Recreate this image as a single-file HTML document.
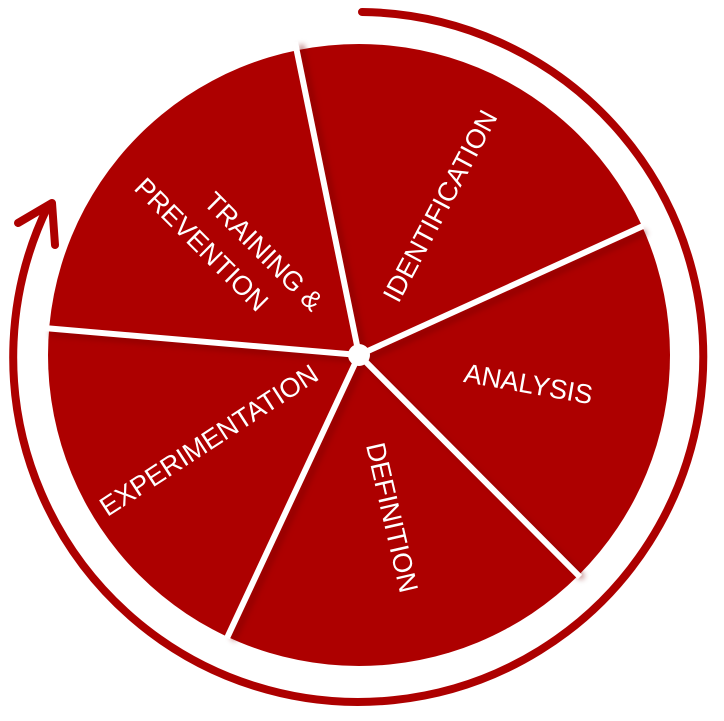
<!DOCTYPE html>
<html><head><style>html,body{margin:0;padding:0;background:#fff}svg{display:block}</style></head>
<body>
<svg width="724" height="721" viewBox="0 0 724 721" xmlns="http://www.w3.org/2000/svg">
<defs>
<filter id="sh" x="-10%" y="-10%" width="120%" height="120%"><feGaussianBlur stdDeviation="3"/></filter>
</defs>
<circle cx="359" cy="355" r="311" fill="#ad0000"/>
<g stroke="#7a0000" stroke-width="6" opacity="0.5" filter="url(#sh)">
<line x1="364" y1="355" x2="301" y2="45"/>
<line x1="364" y1="360" x2="646" y2="232"/>
<line x1="364" y1="360" x2="583" y2="578"/>
<line x1="364" y1="360" x2="233" y2="640"/>
<line x1="364" y1="360" x2="50" y2="333"/>
</g>
<g stroke="#fff" stroke-width="6">
<line x1="359" y1="355" x2="295" y2="42"/>
<line x1="359" y1="355" x2="643" y2="226"/>
<line x1="359" y1="355" x2="580" y2="577"/>
<line x1="359" y1="355" x2="227" y2="638"/>
<line x1="359" y1="355" x2="44" y2="328"/>
</g>
<circle cx="359" cy="355" r="11" fill="#fff"/>
<path d="M 362 12 A 345 345 0 1 1 48 206" fill="none" stroke="#ad0000" stroke-width="8" stroke-linecap="round"/>
<polyline points="18,223 52,203 55,245" fill="none" stroke="#ad0000" stroke-width="8" stroke-linecap="round" stroke-linejoin="round"/>
<g fill="#fff" font-family="Liberation Sans, sans-serif" font-size="27" text-anchor="middle" dominant-baseline="middle">
<text transform="translate(442,207) rotate(-62)">IDENTIFICATION</text>
<text transform="translate(528,386) rotate(10)">ANALYSIS</text>
<text transform="translate(390,518) rotate(77)">DEFINITION</text>
<text transform="translate(210,442) rotate(-33)">EXPERIMENTATION</text>
<text transform="translate(262,253) rotate(45)">TRAINING &amp;</text>
<text transform="translate(200,246) rotate(45)">PREVENTION</text>
</g>
</svg>
</body></html>
